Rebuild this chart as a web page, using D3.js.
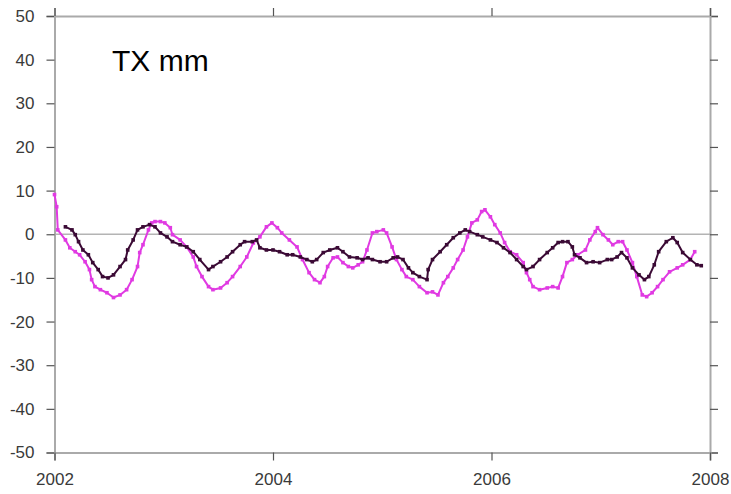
<!DOCTYPE html>
<html>
<head>
<meta charset="utf-8">
<script src="https://cdn.jsdelivr.net/npm/d3@7"></script>
<style>
  html, body { margin: 0; padding: 0; background: #fff; }
  svg { display: block; }
  text { font-family: "Liberation Sans", Arial, sans-serif; }
</style>
</head>
<body>
<svg id="chart" width="731" height="494"></svg>
<script>
// Axis setup
const xTicks = [2002, 2004, 2006, 2008];
const yTicks = [50, 40, 30, 20, 10, 0, -10, -20, -30, -40, -50];
const titleText = "TX mm";

// Series A (magenta): decimal year, displacement in mm
const seriesAYears = [2002.00, 2002.02, 2002.03, 2002.10, 2002.14, 2002.19, 2002.23, 2002.28, 2002.32, 2002.34,
  2002.37, 2002.42, 2002.48, 2002.54, 2002.60, 2002.66, 2002.71, 2002.76, 2002.78, 2002.81,
  2002.86, 2002.89, 2002.92, 2002.97, 2003.01, 2003.06, 2003.08, 2003.15, 2003.21, 2003.27,
  2003.30, 2003.35, 2003.41, 2003.45, 2003.52, 2003.58, 2003.63, 2003.70, 2003.76, 2003.82,
  2003.88, 2003.94, 2003.99, 2004.04, 2004.08, 2004.15, 2004.22, 2004.27, 2004.33, 2004.38,
  2004.43, 2004.47, 2004.50, 2004.55, 2004.59, 2004.64, 2004.69, 2004.73, 2004.78, 2004.82,
  2004.86, 2004.91, 2004.95, 2005.01, 2005.04, 2005.09, 2005.13, 2005.18, 2005.22, 2005.28,
  2005.34, 2005.41, 2005.46, 2005.51, 2005.56, 2005.60, 2005.65, 2005.69, 2005.74, 2005.78,
  2005.82, 2005.87, 2005.91, 2005.94, 2005.99, 2006.03, 2006.08, 2006.12, 2006.17, 2006.23,
  2006.29, 2006.32, 2006.35, 2006.38, 2006.44, 2006.51, 2006.56, 2006.61, 2006.65, 2006.69,
  2006.74, 2006.79, 2006.86, 2006.90, 2006.95, 2006.97, 2007.02, 2007.07, 2007.11, 2007.16,
  2007.20, 2007.24, 2007.29, 2007.33, 2007.38, 2007.42, 2007.47, 2007.52, 2007.57, 2007.63,
  2007.70, 2007.75, 2007.82, 2007.86];
const seriesAValues = [9.1, 6.3, 1.0, -1.3, -3.1, -4.0, -4.7, -6.3, -8.1, -10.4,
  -12.0, -12.7, -13.4, -14.5, -13.9, -12.7, -10.4, -7.4, -4.2, -2.4,
  1.0, 2.6, 2.9, 2.9, 2.6, 1.5, -0.1, -1.3, -2.9, -5.2,
  -7.4, -9.7, -12.0, -12.7, -12.3, -11.1, -9.7, -7.4, -5.2, -2.0,
  -0.6, 1.7, 2.6, 1.5, 0.3, -1.3, -2.9, -5.8, -8.8, -10.4,
  -11.1, -9.7, -7.4, -5.4, -5.2, -6.5, -7.4, -7.7, -7.0, -6.3,
  -3.6, 0.3, 0.6, 1.0, 0.3, -2.9, -5.8, -8.1, -9.7, -10.4,
  -12.0, -13.4, -13.2, -13.9, -11.1, -9.7, -7.7, -5.8, -3.6, -0.6,
  2.6, 3.3, 5.2, 5.6, 4.0, 2.2, 0.3, -1.9, -4.0, -4.7,
  -6.5, -8.8, -10.4, -12.0, -12.7, -12.3, -12.0, -12.3, -9.7, -6.5,
  -5.8, -4.7, -3.6, -1.3, 0.6, 1.5, -0.1, -1.3, -2.4, -1.7,
  -1.7, -3.6, -6.5, -9.7, -13.9, -14.3, -13.4, -12.0, -10.4, -8.6,
  -7.7, -7.0, -5.8, -4.0];

// Series B (dark purple): decimal year, displacement in mm
const seriesBYears = [2002.10, 2002.16, 2002.19, 2002.22, 2002.26, 2002.31, 2002.35, 2002.40, 2002.44, 2002.49,
  2002.54, 2002.60, 2002.65, 2002.67, 2002.72, 2002.76, 2002.81, 2002.87, 2002.92, 2002.97,
  2003.03, 2003.08, 2003.15, 2003.21, 2003.27, 2003.33, 2003.41, 2003.45, 2003.52, 2003.58,
  2003.63, 2003.70, 2003.74, 2003.81, 2003.85, 2003.88, 2003.94, 2004.00, 2004.06, 2004.13,
  2004.18, 2004.25, 2004.31, 2004.36, 2004.40, 2004.46, 2004.52, 2004.59, 2004.64, 2004.70,
  2004.77, 2004.82, 2004.87, 2004.91, 2004.98, 2005.04, 2005.10, 2005.14, 2005.19, 2005.24,
  2005.28, 2005.34, 2005.41, 2005.42, 2005.46, 2005.53, 2005.59, 2005.65, 2005.71, 2005.76,
  2005.80, 2005.87, 2005.92, 2005.99, 2006.05, 2006.11, 2006.17, 2006.23, 2006.29, 2006.32,
  2006.38, 2006.44, 2006.51, 2006.56, 2006.61, 2006.65, 2006.70, 2006.74, 2006.76, 2006.81,
  2006.87, 2006.93, 2006.99, 2007.06, 2007.10, 2007.15, 2007.19, 2007.24, 2007.29, 2007.35,
  2007.40, 2007.44, 2007.49, 2007.53, 2007.60, 2007.66, 2007.70, 2007.75, 2007.82, 2007.88,
  2007.92];
const seriesBValues = [1.7, 1.0, -0.1, -1.7, -3.6, -4.7, -6.5, -8.1, -9.7, -10.0,
  -9.3, -7.4, -5.8, -3.6, -1.3, 1.0, 1.7, 2.2, 1.7, 0.3,
  -0.6, -1.7, -2.4, -2.9, -4.0, -5.8, -8.1, -7.4, -6.3, -5.2,
  -4.0, -2.4, -1.7, -1.7, -1.3, -3.1, -3.6, -3.6, -4.0, -4.7,
  -4.7, -5.2, -5.8, -6.3, -5.8, -4.2, -3.6, -3.1, -4.0, -5.2,
  -5.4, -5.8, -5.4, -5.8, -6.3, -6.3, -5.4, -5.2, -5.8, -7.7,
  -8.8, -9.7, -10.4, -8.1, -5.8, -4.0, -2.4, -0.8, 0.3, 1.0,
  0.6, -0.1, -0.6, -1.3, -1.9, -3.1, -4.2, -5.8, -7.4, -8.1,
  -7.4, -5.8, -4.2, -3.1, -1.9, -1.7, -1.7, -2.9, -4.7, -5.4,
  -6.5, -6.3, -6.5, -5.8, -5.8, -5.2, -4.2, -5.4, -7.7, -9.3,
  -10.4, -9.7, -7.0, -4.0, -1.7, -0.8, -1.9, -4.2, -5.8, -7.0,
  -7.2];

const colorA = "#e03ae2";
const colorB = "#3b0a35";

const svg = d3.select("#chart");
const margin = { left: 54.5, right: 21, top: 16, bottom: 41.5 };
const W = 731, H = 494;

const x = d3.scaleLinear().domain([2002, 2008]).range([margin.left, W - margin.right]);
const y = d3.scaleLinear().domain([-50, 50]).range([H - margin.bottom, margin.top]);

const frameColor = "#aaaaaa";
const tickColor = "#555555";

// Zero reference line
svg.append("line")
  .attr("x1", x(2002)).attr("x2", x(2008))
  .attr("y1", y(0)).attr("y2", y(0))
  .attr("stroke", "#b4b4b4").attr("stroke-width", 1.5);

// Plain hyphen for negative labels
const plainFormat = d => String(d);

// Axes: left/bottom with labels, top/right ticks only
const axisLeft = d3.axisLeft(y).tickValues(yTicks).tickSize(8).tickPadding(12).tickFormat(plainFormat);
const axisRight = d3.axisRight(y).tickValues(yTicks).tickSize(8).tickFormat("");
const axisBottom = d3.axisBottom(x).tickValues(xTicks).tickSize(8).tickPadding(12).tickFormat(plainFormat);
const axisTop = d3.axisTop(x).tickValues(xTicks).tickSize(8).tickFormat("");

function styleAxis(g) {
  g.select(".domain").attr("stroke", frameColor).attr("stroke-width", 2);
  g.selectAll(".tick line").attr("stroke", tickColor).attr("stroke-width", 1.2);
  g.selectAll(".tick text")
    .attr("fill", "#3a3a3a")
    .style("font-size", "17px")
    .style("font-family", "'Liberation Sans', Arial, sans-serif");
}

svg.append("g").attr("transform", `translate(${x(2002)},0)`).call(axisLeft).call(styleAxis);
svg.append("g").attr("transform", `translate(${x(2008)},0)`).call(axisRight).call(styleAxis);
svg.append("g").attr("transform", `translate(0,${y(-50)})`).call(axisBottom).call(styleAxis);
svg.append("g").attr("transform", `translate(0,${y(50)})`).call(axisTop).call(styleAxis);

// Series
const line = d3.line().x(d => x(d[0])).y(d => y(d[1]));

function drawSeries(years, values, color) {
  const pts = years.map((t, i) => [t, values[i]]);
  const g = svg.append("g");
  g.append("path").datum(pts)
    .attr("fill", "none").attr("stroke", color)
    .attr("stroke-width", 2).attr("stroke-linejoin", "round")
    .attr("d", line);
  g.selectAll("rect").data(pts).join("rect")
    .attr("x", d => x(d[0]) - 1.8).attr("y", d => y(d[1]) - 1.8)
    .attr("width", 3.6).attr("height", 3.6)
    .attr("fill", color);
}

drawSeries(seriesAYears, seriesAValues, colorA);
drawSeries(seriesBYears, seriesBValues, colorB);

// Title
svg.append("text")
  .attr("x", 112).attr("y", 71)
  .attr("fill", "#000")
  .style("font-size", "30px")
  .text(titleText);
</script>
</body>
</html>
